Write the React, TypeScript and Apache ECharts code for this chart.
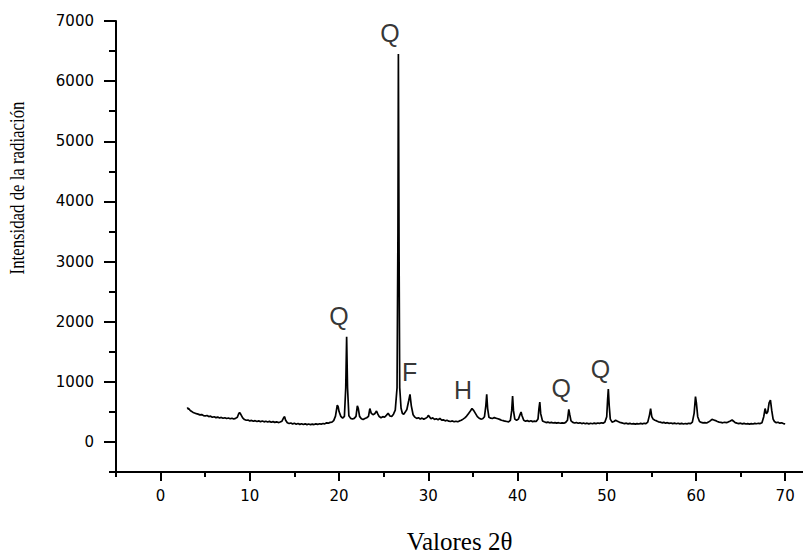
import React, { useEffect, useRef } from "react";
import * as echarts from "echarts";

// 2θ (degrees), intensity (counts)
const patternA: [number, number][] = [
  [3.0, 575], [3.1, 545], [3.2, 550], [3.3, 525], [3.4, 515], [3.6, 495], [3.8, 480], [4.0, 470],
  [4.2, 462], [4.4, 450], [4.6, 455], [4.8, 438], [5.0, 432], [5.2, 440], [5.4, 422], [5.6, 428],
  [5.8, 410], [6.0, 418], [6.2, 404], [6.4, 413], [6.6, 398], [6.8, 408], [7.0, 394], [7.2, 403],
  [7.4, 389], [7.6, 398], [7.8, 386], [8.0, 394], [8.2, 382], [8.4, 392], [8.6, 410], [8.75, 470],
  [8.85, 490], [9.0, 455], [9.2, 400], [9.4, 372], [9.6, 360], [9.8, 365], [10.0, 350], [10.2, 358],
  [10.4, 343], [10.6, 354], [10.8, 340], [11.0, 350], [11.2, 337], [11.4, 348], [11.6, 334], [11.8, 345],
  [12.0, 332], [12.2, 342], [12.4, 328], [12.6, 338], [12.8, 325], [13.0, 334], [13.2, 322], [13.4, 331],
  [13.6, 345], [13.8, 405], [13.9, 421], [14.0, 365], [14.2, 318], [14.4, 306], [14.6, 316], [14.8, 300],
  [15.0, 310], [15.2, 295], [15.4, 306], [15.6, 292], [15.8, 303], [16.0, 290], [16.2, 301], [16.4, 288],
  [16.6, 298], [16.8, 287], [17.0, 297], [17.2, 289], [17.4, 300], [17.6, 291], [17.8, 303], [18.0, 295],
  [18.2, 307], [18.4, 300], [18.6, 318], [18.8, 312], [19.0, 325], [19.2, 330], [19.4, 355], [19.6, 430],
];

const patternB: [number, number][] = [
  [19.8, 610], [19.9, 585], [20.0, 505], [20.2, 425], [20.4, 395], [20.6, 425], [20.75, 900], [20.85, 1750],
  [20.95, 900], [21.1, 435], [21.3, 392], [21.5, 380], [21.7, 392], [21.9, 425], [22.05, 600], [22.15, 560],
  [22.3, 425], [22.5, 385], [22.7, 372], [22.9, 388], [23.1, 402], [23.3, 425], [23.45, 555], [23.6, 480],
  [23.8, 452], [24.0, 470], [24.2, 515], [24.35, 462], [24.5, 422], [24.7, 402], [24.9, 420], [25.1, 410],
  [25.3, 442], [25.5, 478], [25.7, 432], [25.9, 422], [26.1, 462], [26.3, 530], [26.5, 900], [26.6, 3500],
  [26.65, 6450], [26.72, 3400], [26.8, 900], [26.95, 560], [27.1, 472], [27.25, 460], [27.4, 492], [27.6, 540],
  [27.8, 680], [27.95, 790], [28.1, 600], [28.3, 452], [28.5, 412], [28.7, 392], [28.9, 402], [29.1, 382],
  [29.3, 396], [29.5, 376], [29.7, 392], [29.9, 412],
];

const patternC: [number, number][] = [
  [30.0, 442], [30.15, 416], [30.3, 386], [30.5, 400], [30.7, 376], [30.9, 386], [31.1, 370], [31.3, 390],
  [31.5, 362], [31.7, 368], [31.9, 350], [32.1, 360], [32.3, 345], [32.5, 340], [32.7, 350], [32.9, 335],
  [33.1, 345], [33.3, 335], [33.5, 350], [33.7, 360], [33.9, 380], [34.1, 400], [34.3, 430], [34.5, 470],
  [34.7, 510], [34.9, 555], [35.1, 520], [35.3, 470], [35.5, 420], [35.7, 395], [35.9, 380], [36.1, 385],
  [36.3, 420], [36.45, 600], [36.55, 790], [36.65, 560], [36.8, 410], [37.0, 395], [37.2, 390], [37.4, 405],
  [37.6, 395], [37.8, 385], [38.0, 375], [38.2, 360], [38.4, 355], [38.6, 345], [38.8, 340], [39.0, 335],
  [39.2, 360], [39.35, 520], [39.45, 765], [39.55, 520], [39.7, 380], [39.9, 360], [40.1, 380], [40.3, 460],
  [40.4, 498], [40.5, 440], [40.7, 360], [40.9, 345], [41.1, 355], [41.3, 340], [41.5, 352], [41.7, 338],
  [41.9, 345], [42.1, 340], [42.3, 380], [42.4, 550], [42.5, 664], [42.6, 470], [42.8, 350], [43.0, 335],
  [43.2, 322], [43.4, 330], [43.6, 318], [43.8, 326], [44.0, 315], [44.2, 322], [44.4, 312], [44.6, 320],
  [44.8, 310], [45.0, 318], [45.2, 312], [45.4, 325], [45.6, 360], [45.75, 543], [45.85, 460], [46.0, 350],
  [46.2, 325], [46.4, 315], [46.6, 322], [46.8, 310], [47.0, 318], [47.2, 305], [47.4, 315], [47.6, 303],
  [47.8, 312], [48.0, 300], [48.2, 310], [48.4, 302], [48.6, 312], [48.8, 305], [49.0, 315], [49.2, 308],
  [49.4, 318], [49.6, 312], [49.8, 330],
];

const patternD: [number, number][] = [
  [50.0, 420], [50.1, 700], [50.18, 880], [50.28, 600], [50.4, 380], [50.6, 330], [50.8, 340], [51.0, 360],
  [51.2, 345], [51.4, 330], [51.6, 320], [51.8, 312], [52.0, 305], [52.2, 312], [52.4, 300], [52.6, 308],
  [52.8, 298], [53.0, 305], [53.2, 296], [53.4, 305], [53.6, 298], [53.8, 308], [54.0, 300], [54.2, 310],
  [54.4, 305], [54.6, 330], [54.8, 450], [54.92, 555], [55.05, 420], [55.2, 380], [55.4, 360], [55.6, 350],
  [55.8, 335], [56.0, 330], [56.2, 318], [56.4, 325], [56.6, 312], [56.8, 320], [57.0, 308], [57.2, 315],
  [57.4, 305], [57.6, 312], [57.8, 302], [58.0, 310], [58.2, 300], [58.4, 308], [58.6, 298], [58.8, 306],
  [59.0, 300], [59.2, 310], [59.4, 305], [59.6, 330], [59.8, 480], [59.95, 754], [60.05, 650], [60.2, 420],
  [60.4, 340], [60.6, 325], [60.8, 318], [61.0, 322], [61.2, 315], [61.4, 330], [61.6, 350], [61.8, 375],
  [62.0, 365], [62.2, 355], [62.4, 340], [62.6, 330], [62.8, 325], [63.0, 318], [63.2, 328], [63.4, 320],
  [63.6, 330], [63.8, 345], [64.05, 365], [64.25, 340], [64.4, 320], [64.6, 312], [64.8, 305], [65.0, 312],
  [65.2, 300], [65.4, 308], [65.6, 298], [65.8, 305], [66.0, 296], [66.2, 305], [66.4, 298], [66.6, 308],
  [66.8, 302], [67.0, 310], [67.2, 305], [67.4, 320], [67.6, 420], [67.75, 555], [67.9, 470], [68.05, 500],
  [68.2, 650], [68.35, 697], [68.5, 520], [68.65, 380], [68.8, 340], [69.0, 320], [69.2, 328], [69.4, 312],
  [69.6, 318], [69.8, 305], [70.0, 300],
];

const xMajorTicks = [0, 10, 20, 30, 40, 50, 60, 70];
const xMinorTicks = [-5, 5, 15, 25, 35, 45, 55, 65];
const yMajorTicks = [0, 1000, 2000, 3000, 4000, 5000, 6000, 7000];
const yMinorTicks = [-500, 500, 1500, 2500, 3500, 4500, 5500, 6500];

const phaseNames = ["Q", "Q", "F", "H", "Q", "Q"];
const phaseX = [25.7, 19.98, 27.9, 33.9, 44.9, 49.3];
const phaseY = [6800, 2100, 1170, 860, 890, 1210];

const xTitle = "Valores 2θ";
const yTitle = "Intensidad de la radiación";

export default function App() {
  const ref = useRef<HTMLDivElement>(null);
  useEffect(() => {
    if (!ref.current) return;
    const chart = echarts.init(ref.current, null, { renderer: "svg" });
    const pattern = [...patternA, ...patternB, ...patternC, ...patternD];
    const axisCommon = {
      type: "value" as const,
      splitLine: { show: false },
    };
    chart.setOption({
      animation: false,
      backgroundColor: "#fff",
      grid: { left: 116, right: 0, top: 21, bottom: 84, containLabel: false, outerBoundsMode: "none" },
      xAxis: [
        {
          ...axisCommon,
          min: -5,
          max: 72,
          position: "bottom",
          axisLine: { show: true, onZero: false, lineStyle: { color: "#000", width: 2 } },
          axisTick: { show: true, customValues: xMajorTicks, length: 9, lineStyle: { color: "#000", width: 2 } },
          axisLabel: {
            customValues: xMajorTicks,
            formatter: (v: number) => String(v),
            color: "#000",
            fontFamily: "DejaVu Sans",
            fontSize: 15,
            margin: 16,
          },
          name: xTitle,
          nameLocation: "middle",
          nameGap: 57,
          nameTextStyle: { color: "#000", fontFamily: "Liberation Serif", fontSize: 25 },
        },
        {
          ...axisCommon,
          min: -5,
          max: 72,
          position: "bottom",
          axisLine: { show: false, onZero: false },
          axisTick: { show: true, customValues: xMinorTicks, length: 5, lineStyle: { color: "#000", width: 2 } },
          axisLabel: { show: false },
        },
      ],
      yAxis: [
        {
          ...axisCommon,
          min: -500,
          max: 7000,
          position: "left",
          axisLine: { show: true, onZero: false, lineStyle: { color: "#000", width: 2 } },
          axisTick: { show: true, customValues: yMajorTicks, length: 12, lineStyle: { color: "#000", width: 2 } },
          axisLabel: {
            customValues: yMajorTicks,
            formatter: (v: number) => String(v),
            color: "#000",
            fontFamily: "DejaVu Sans",
            fontSize: 15,
            margin: 22,
          },
        },
        {
          ...axisCommon,
          min: -500,
          max: 7000,
          position: "left",
          offset: 0,
          axisLine: { show: false, onZero: false },
          axisTick: { show: true, customValues: yMinorTicks, length: 7, lineStyle: { color: "#000", width: 2 } },
          axisLabel: { show: false },
        },
      ],
      graphic: [
        {
          type: "text",
          x: 18,
          y: 188,
          rotation: Math.PI / 2,
          scaleX: 0.84,
          style: {
            text: yTitle,
            fontFamily: "Liberation Serif",
            fontSize: 20,
            fill: "#000",
            align: "center",
            verticalAlign: "middle",
          },
        },
      ],
      series: [
        {
          type: "line",
          xAxisIndex: 0,
          yAxisIndex: 0,
          data: pattern,
          showSymbol: false,
          symbol: "none",
          lineStyle: { color: "#000", width: 1.7 },
          silent: true,
        },
        {
          type: "scatter",
          xAxisIndex: 0,
          yAxisIndex: 0,
          symbolSize: 0,
          data: phaseNames.map((n, i) => ({ value: [phaseX[i], phaseY[i]], name: n })),
          label: {
            show: true,
            position: "inside",
            formatter: (p: any) => p.name,
            color: "#000",
            fontFamily: "Liberation Sans",
            fontSize: 25,
          },
          silent: true,
        },
      ],
    });
    return () => chart.dispose();
  }, []);
  return (
    <div
      ref={ref}
      style={{ position: "fixed", left: 0, top: 0, width: 803, height: 556, background: "#fff" }}
    />
  );
}
